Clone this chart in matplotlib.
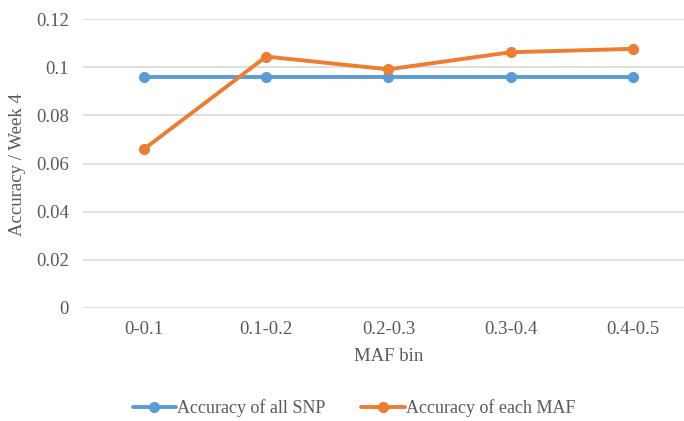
import matplotlib
matplotlib.use("Agg")
import matplotlib.pyplot as plt

categories = ["0-0.1", "0.1-0.2", "0.2-0.3", "0.3-0.4", "0.4-0.5"]
acc_all_snp = [0.096, 0.096, 0.096, 0.096, 0.096]
acc_each_maf = [0.066, 0.1044, 0.0991, 0.1062, 0.1076]
yticks = [0, 0.02, 0.04, 0.06, 0.08, 0.1, 0.12]
ytick_labels = ["0", "0.02", "0.04", "0.06", "0.08", "0.1", "0.12"]

plt.rcParams['font.family'] = ['Liberation Serif', 'DejaVu Serif']
txt = "#595959"

fig = plt.figure(figsize=(6.84, 4.21), dpi=100)
ax = fig.add_axes([83/684, 113/421, 601/684, 289/421])

x = list(range(len(categories)))
ax.plot(x, acc_all_snp, color="#5B9BD5", lw=2.8, marker="o", ms=7,
        label="Accuracy of all SNP", solid_capstyle="round")
ax.plot(x, acc_each_maf, color="#ED7D31", lw=2.8, marker="o", ms=7,
        label="Accuracy of each MAF", solid_capstyle="round")

ax.set_ylim(0, 0.12)
ax.set_xlim(-0.5, 4.42)
ax.set_yticks(yticks)
ax.set_yticklabels(ytick_labels)
ax.set_xticks(x)
ax.set_xticklabels(categories)
ax.grid(axis="y", color="#D9D9D9", lw=1.2)
ax.set_axisbelow(True)
for s in ax.spines.values():
    s.set_visible(False)
ax.tick_params(length=0, labelsize=13.5, colors=txt)
ax.tick_params(axis="x", pad=9)
ax.tick_params(axis="y", pad=10)

ax.set_xlabel("MAF bin", fontsize=13.5, color=txt)
ax.xaxis.set_label_coords((389 - 83) / 601, -(347 - 307) / 289)
fig.text(18/684, 1 - 165/421, "Accuracy / Week 4", rotation=90, fontsize=13.5,
         color=txt, ha="center", va="center")

leg = fig.legend(loc="center", bbox_to_anchor=(354/684, 1 - 408/421), ncol=2,
                 frameon=False, fontsize=13, handlelength=2.4, columnspacing=2.0,
                 handletextpad=0.05, labelcolor=txt)
fig.savefig("out.png", dpi=100)
